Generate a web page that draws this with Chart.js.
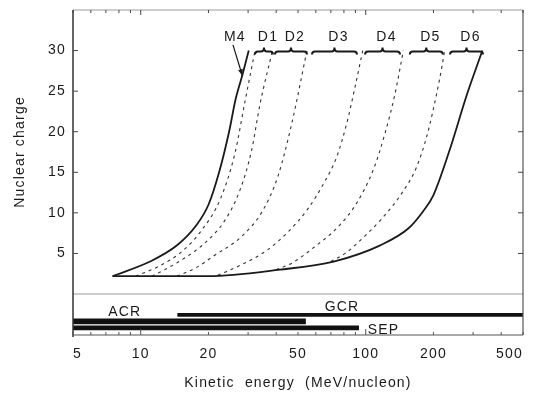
<!DOCTYPE html>
<html>
<head>
<meta charset="utf-8">
<script src="https://cdn.jsdelivr.net/npm/chart.js@4.4.1/dist/chart.umd.min.js"></script>
<style>
  html, body { margin: 0; padding: 0; background: #fff; }
  #wrap { position: relative; width: 538px; height: 394px; }
  #topChart { position: absolute; left: 0; top: 0; }
  #botChart { position: absolute; left: 0; top: 292px; }
</style>
</head>
<body>
<div id="wrap">
  <canvas id="topChart" width="538" height="296"></canvas>
  <canvas id="botChart" width="538" height="100"></canvas>
</div>
<script>
// axis ticks
const xTicks = [5, 10, 20, 50, 100, 200, 500];
const yTicks = [5, 10, 15, 20, 25, 30];

// solid boundaries (energy in MeV/nucleon, nuclear charge)
const leftE  = [7.5, 11, 14.5, 17.7, 20, 22.3, 24.7, 26.4, 28.3, 30.2];
const leftZ  = [2.2, 4, 6, 8.5, 11, 15, 20, 24, 27, 30];
const rightE = [7.5, 20, 41.6, 72, 116, 155, 180, 200, 237, 281, 330];
const rightZ = [2.2, 2.2, 3, 4, 6, 8.1, 10.2, 12.2, 17.9, 24.5, 30];

// dashed detector limits
const dashE = [
  [9.5, 12, 15.2, 18.7, 22.5, 26.2, 29.1, 32.2],
  [11.2, 12, 15.2, 19.3, 23.7, 27.6, 31.1, 33.9, 38.5],
  [14.5, 17.5, 21.4, 28.1, 34.9, 40.7, 46.9, 54.8],
  [22, 28, 36, 45, 55, 65.9, 74.3, 82.3, 89.6, 97],
  [40, 46.9, 59.5, 75.5, 91.1, 108, 121.8, 135, 147],
  [70, 82, 97, 118, 144.5, 168, 187, 206, 218, 224]
];
const dashZ = [
  [2.2, 3.4, 5.2, 7.9, 11.6, 17.3, 23.8, 30],
  [2.2, 2.6, 4.2, 6.3, 9.1, 12.8, 17.7, 23.4, 30],
  [2.2, 3.2, 4.8, 7.1, 10.3, 14.5, 21, 30],
  [2.3, 3.6, 5.3, 7.6, 10.4, 13.9, 16.9, 21, 25.5, 30],
  [3.0, 3.8, 5.85, 8.3, 11.2, 15.3, 19.8, 24.7, 30],
  [4.0, 5.1, 6.9, 9.3, 12.4, 15.6, 19.5, 24.5, 28, 30]
];

// braces on top of the curves
const braceNames = ['D1', 'D2', 'D3', 'D4', 'D5', 'D6'];
const braceLo = [32.2, 39.5, 57.7, 99.3, 157, 237];
const braceHi = [38.7, 54.8, 91.4, 142, 220, 332];

// bottom panel ranges
const rows = ['GCR', 'ACR', 'SEP'];
const rangeLo = [14.6, 5, 5];
const rangeHi = [500, 54, 93];

const INK = '#1a1a1a';
const FONT = "'Liberation Sans', Arial, sans-serif";
Chart.defaults.font.family = FONT;
Chart.defaults.color = INK;

const pts = (E, Z) => E.map((e, i) => ({ x: e, y: Z[i] }));

// the scanned lettering is wide, so space the glyphs a little
const spacing = {
  id: 'spacing',
  beforeUpdate(chart) { chart.ctx.letterSpacing = '1.2px'; },
  beforeDraw(chart) { chart.ctx.letterSpacing = '1.2px'; }
};

// log tick positions for the small inward marks
function logMarks(min, max) {
  const out = [];
  for (let d = 1; d <= 100; d *= 10) {
    for (let m = 1; m <= 9; m++) {
      const v = m * d;
      if (v >= min && v <= max) out.push({ v, major: m === 1 });
    }
  }
  return out;
}

function brace(ctx, x0, x1, y) {
  const xm = (x0 + x1) / 2, r = 3;
  ctx.beginPath();
  ctx.moveTo(x0, y + 3);
  ctx.quadraticCurveTo(x0, y, x0 + r, y);
  ctx.lineTo(xm - r, y);
  ctx.quadraticCurveTo(xm, y, xm, y - 4);
  ctx.quadraticCurveTo(xm, y, xm + r, y);
  ctx.lineTo(x1 - r, y);
  ctx.quadraticCurveTo(x1, y, x1, y + 3);
  ctx.stroke();
}

const topDecor = {
  id: 'topDecor',
  afterDraw(chart) {
    const { ctx, chartArea: a, scales: { x, y } } = chart;
    ctx.save();
    // frame
    ctx.lineWidth = 1;
    ctx.strokeStyle = '#9a9a9a';
    ctx.beginPath();
    ctx.moveTo(a.left, a.top); ctx.lineTo(a.right, a.top);
    ctx.moveTo(a.left, a.bottom); ctx.lineTo(a.right, a.bottom);
    ctx.stroke();
    ctx.strokeStyle = '#333';
    ctx.lineWidth = 1.5;
    ctx.beginPath();
    ctx.moveTo(a.left, a.top); ctx.lineTo(a.left, a.bottom);
    ctx.stroke();
    ctx.strokeStyle = '#555';
    ctx.lineWidth = 1.2;
    ctx.beginPath();
    ctx.moveTo(a.right, a.top); ctx.lineTo(a.right, a.bottom);
    ctx.stroke();

    // inward ticks
    ctx.lineWidth = 1;
    ctx.strokeStyle = '#444';
    ctx.beginPath();
    yTicks.forEach(v => {
      const py = y.getPixelForValue(v);
      ctx.moveTo(a.left, py); ctx.lineTo(a.left + 5, py);
      ctx.moveTo(a.right, py); ctx.lineTo(a.right - 5, py);
    });
    logMarks(x.min, x.max).forEach(t => {
      const px = x.getPixelForValue(t.v);
      ctx.moveTo(px, a.top); ctx.lineTo(px, a.top + (t.major ? 5 : 3));
    });
    ctx.stroke();

    // braces and labels
    const yb = y.getPixelForValue(30) + 1;
    const yl = y.getPixelForValue(31.7);
    ctx.strokeStyle = INK;
    ctx.lineWidth = 2;
    ctx.fillStyle = INK;
    ctx.font = '14px ' + FONT;
    ctx.textAlign = 'center';
    ctx.textBaseline = 'middle';
    braceNames.forEach((n, i) => {
      const x0 = x.getPixelForValue(braceLo[i]);
      const x1 = x.getPixelForValue(braceHi[i]);
      brace(ctx, x0, x1, yb);
      ctx.fillText(n, (x0 + x1) / 2 + 4, yl);
    });
    ctx.fillText('M4', x.getPixelForValue(26.2), yl);

    // M4 arrow
    const tx = x.getPixelForValue(25.7), ty = y.getPixelForValue(30.7);
    const hx = x.getPixelForValue(28.3), hy = y.getPixelForValue(26.9);
    ctx.lineWidth = 1.2;
    ctx.beginPath();
    ctx.moveTo(tx, ty); ctx.lineTo(hx, hy);
    ctx.stroke();
    const ang = Math.atan2(hy - ty, hx - tx);
    ctx.beginPath();
    ctx.moveTo(hx, hy);
    ctx.lineTo(hx - 7 * Math.cos(ang - 0.35), hy - 7 * Math.sin(ang - 0.35));
    ctx.lineTo(hx - 7 * Math.cos(ang + 0.35), hy - 7 * Math.sin(ang + 0.35));
    ctx.closePath();
    ctx.fill();
    ctx.restore();
  }
};

const lineStyle = { showLine: true, pointRadius: 0, cubicInterpolationMode: 'monotone', borderColor: INK };

const datasets = [
  Object.assign({ data: pts(leftE, leftZ), borderWidth: 1.8 }, lineStyle),
  Object.assign({ data: pts(rightE, rightZ), borderWidth: 1.8 }, lineStyle)
];
dashE.forEach((E, i) => {
  datasets.push(Object.assign({ data: pts(E, dashZ[i]), borderWidth: 1.1, borderDash: [3, 4] },
    lineStyle, { borderColor: '#333' }));
});

new Chart(document.getElementById('topChart'), {
  type: 'scatter',
  data: { datasets },
  options: {
    responsive: false,
    animation: false,
    layout: { padding: { top: 10, right: 15, bottom: 2, left: 0 } },
    plugins: { legend: { display: false }, tooltip: { enabled: false } },
    scales: {
      x: { type: 'logarithmic', min: 5, max: 500, display: false },
      y: {
        min: 0, max: 35,
        grid: { display: false, drawTicks: false },
        border: { display: false },
        afterBuildTicks: s => { s.ticks = yTicks.map(v => ({ value: v })); },
        afterFit: s => { s.width = 73; s.paddingTop = 0; s.paddingBottom = 0; },
        ticks: { padding: 7, font: { size: 14 }, color: INK },
        title: { display: true, text: 'Nuclear charge', font: { size: 14 }, color: INK, padding: { top: 12, bottom: 0 } }
      }
    }
  },
  plugins: [spacing, topDecor]
});

// bottom panel: particle populations
const botDecor = {
  id: 'botDecor',
  afterDraw(chart) {
    const { ctx, chartArea: a, scales: { x, y } } = chart;
    ctx.save();
    ctx.strokeStyle = '#333';
    ctx.lineWidth = 1.5;
    ctx.beginPath();
    ctx.moveTo(a.left, a.top); ctx.lineTo(a.left, a.bottom + 2);
    ctx.stroke();
    ctx.strokeStyle = '#555';
    ctx.lineWidth = 1.2;
    ctx.beginPath();
    ctx.moveTo(a.right, a.top); ctx.lineTo(a.right, a.bottom);
    ctx.moveTo(a.left, a.bottom); ctx.lineTo(a.right, a.bottom);
    ctx.stroke();
    ctx.lineWidth = 1;
    ctx.beginPath();
    logMarks(x.min, x.max).forEach(t => {
      const px = x.getPixelForValue(t.v);
      ctx.moveTo(px, a.bottom); ctx.lineTo(px, a.bottom - (t.major ? 6 : 3));
    });
    ctx.stroke();

    // row names
    ctx.fillStyle = INK;
    ctx.font = '14px ' + FONT;
    ctx.textBaseline = 'middle';
    ctx.textAlign = 'center';
    ctx.fillText('GCR', x.getPixelForValue(78.5), y.getPixelForValue(0) - 8);
    ctx.fillText('ACR', x.getPixelForValue(8.5), y.getPixelForValue(1) - 9);
    ctx.textAlign = 'left';
    ctx.fillText('SEP', x.getPixelForValue(102), y.getPixelForValue(2) + 2);
    ctx.restore();
  }
};

const thickness = [3, 5, 4];
new Chart(document.getElementById('botChart'), {
  type: 'bar',
  data: {
    datasets: rows.map((r, i) => ({
      label: r,
      data: [{ x: [rangeLo[i], rangeHi[i]], y: i }],
      backgroundColor: '#111',
      barThickness: thickness[i],
      maxBarThickness: thickness[i],
      grouped: false
    }))
  },
  options: {
    indexAxis: 'y',
    responsive: false,
    animation: false,
    layout: { padding: { top: 2, right: 15, bottom: 0, left: 73 } },
    plugins: { legend: { display: false }, tooltip: { enabled: false } },
    scales: {
      x: {
        type: 'logarithmic', min: 5, max: 500,
        grid: { display: false, drawTicks: false },
        border: { display: false },
        afterBuildTicks: s => { s.ticks = xTicks.map(v => ({ value: v })); },
        afterFit: s => { s.height = 57; s.paddingLeft = 0; s.paddingRight = 0; },
        ticks: { padding: 11, font: { size: 14 }, color: INK, maxRotation: 0, align: 'inner', callback: v => String(v) },
        title: { display: true, text: 'Kinetic  energy  (MeV/nucleon)', font: { size: 14 }, color: INK, padding: { top: 10, bottom: 0 } }
      },
      y: { type: 'linear', reverse: true, min: -3.2, max: 3.1, offset: false, display: false }
    }
  },
  plugins: [spacing, botDecor]
});
</script>
</body>
</html>
